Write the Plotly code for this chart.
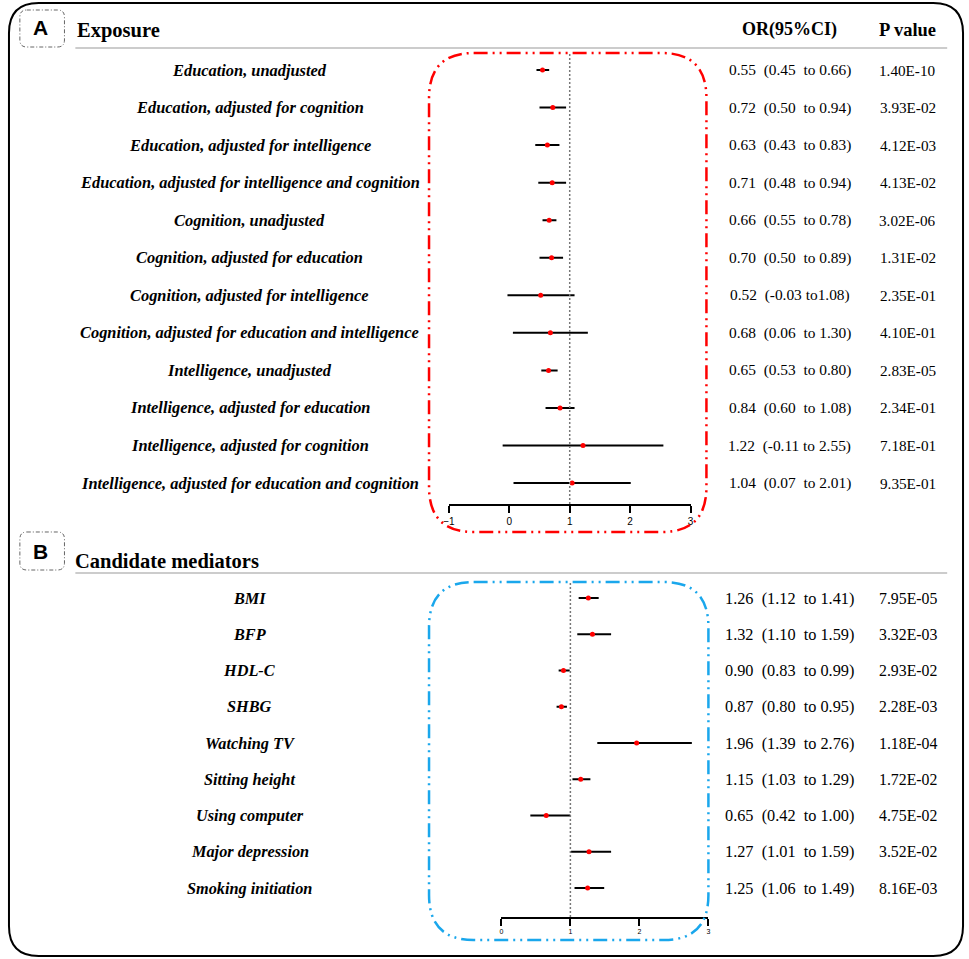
import plotly.graph_objects as go

W, H = 969, 959

# panel A: exposures
labels_a = [
    'Education, unadjusted',
    'Education, adjusted for cognition',
    'Education, adjusted for intelligence',
    'Education, adjusted for intelligence and cognition',
    'Cognition, unadjusted',
    'Cognition, adjusted for education',
    'Cognition, adjusted for intelligence',
    'Cognition, adjusted for education and intelligence',
    'Intelligence, unadjusted',
    'Intelligence, adjusted for education',
    'Intelligence, adjusted for cognition',
    'Intelligence, adjusted for education and cognition',
]
or_a = [0.55, 0.72, 0.63, 0.71, 0.66, 0.70, 0.52, 0.68, 0.65, 0.84, 1.22, 1.04]
lo_a = [0.45, 0.50, 0.43, 0.48, 0.55, 0.50, -0.03, 0.06, 0.53, 0.60, -0.11, 0.07]
hi_a = [0.66, 0.94, 0.83, 0.94, 0.78, 0.89, 1.08, 1.30, 0.80, 1.08, 2.55, 2.01]
ci_text_a = [
    '0.55  (0.45  to 0.66)', '0.72  (0.50  to 0.94)', '0.63  (0.43  to 0.83)',
    '0.71  (0.48  to 0.94)', '0.66  (0.55  to 0.78)', '0.70  (0.50  to 0.89)',
    '0.52  (-0.03 to1.08)', '0.68  (0.06  to 1.30)', '0.65  (0.53  to 0.80)',
    '0.84  (0.60  to 1.08)', '1.22  (-0.11 to 2.55)', '1.04  (0.07  to 2.01)',
]
p_a = ['1.40E-10', '3.93E-02', '4.12E-03', '4.13E-02', '3.02E-06', '1.31E-02',
       '2.35E-01', '4.10E-01', '2.83E-05', '2.34E-01', '7.18E-01', '9.35E-01']
ticks_a = [-1, 0, 1, 2, 3]

# panel B: candidate mediators
labels_b = ['BMI', 'BFP', 'HDL-C', 'SHBG', 'Watching TV', 'Sitting height',
            'Using computer', 'Major depression', 'Smoking initiation']
or_b = [1.26, 1.32, 0.90, 0.87, 1.96, 1.15, 0.65, 1.27, 1.25]
lo_b = [1.12, 1.10, 0.83, 0.80, 1.39, 1.03, 0.42, 1.01, 1.06]
hi_b = [1.41, 1.59, 0.99, 0.95, 2.76, 1.29, 1.00, 1.59, 1.49]
ci_text_b = [
    '1.26  (1.12  to 1.41)', '1.32  (1.10  to 1.59)', '0.90  (0.83  to 0.99)',
    '0.87  (0.80  to 0.95)', '1.96  (1.39  to 2.76)', '1.15  (1.03  to 1.29)',
    '0.65  (0.42  to 1.00)', '1.27  (1.01  to 1.59)', '1.25  (1.06  to 1.49)',
]
p_b = ['7.95E-05', '3.32E-03', '2.93E-02', '2.28E-03', '1.18E-04', '1.72E-02',
       '4.75E-02', '3.52E-02', '8.16E-03']
ticks_b = [0, 1, 2, 3]

SERIF = 'Liberation Serif'
SANS = 'Liberation Sans'


def px(x):
    return x / W


def py(y):
    return 1 - y / H


def rrect(x0, y0, x1, y1, r):
    # rounded rectangle path in paper coords, from pixel box
    pts = [
        ('M', [(x0 + r, y0)]), ('L', [(x1 - r, y0)]), ('Q', [(x1, y0), (x1, y0 + r)]),
        ('L', [(x1, y1 - r)]), ('Q', [(x1, y1), (x1 - r, y1)]),
        ('L', [(x0 + r, y1)]), ('Q', [(x0, y1), (x0, y1 - r)]),
        ('L', [(x0, y0 + r)]), ('Q', [(x0, y0), (x0 + r, y0)]),
    ]
    s = ''
    for cmd, cs in pts:
        s += cmd + ' '.join('%.5f,%.5f' % (px(a), py(b)) for a, b in cs) + ' '
    return s + 'Z'


def nb(s):
    return s.replace(' ', '\u00a0')


def txt(x, y, text, size, yref='paper', family=SERIF, xanchor='center'):
    return dict(x=px(x), y=y, xref='paper', yref=yref, text=text, xanchor=xanchor,
                yanchor='middle', font=dict(family=family, size=size, color='black'),
                showarrow=False)


fig = go.Figure()

rows_a = list(range(len(labels_a)))
rows_b = list(range(len(labels_b)))

fig.add_trace(go.Scatter(
    x=or_a, y=rows_a, mode='markers', xaxis='x', yaxis='y',
    marker=dict(color='red', size=5),
    error_x=dict(type='data', symmetric=False,
                 array=[h - o for h, o in zip(hi_a, or_a)],
                 arrayminus=[o - l for o, l in zip(or_a, lo_a)],
                 color='black', thickness=2, width=0),
    hoverinfo='skip', showlegend=False,
))
fig.add_trace(go.Scatter(
    x=or_b, y=rows_b, mode='markers', xaxis='x2', yaxis='y2',
    marker=dict(color='red', size=5),
    error_x=dict(type='data', symmetric=False,
                 array=[h - o for h, o in zip(hi_b, or_b)],
                 arrayminus=[o - l for o, l in zip(or_b, lo_b)],
                 color='black', thickness=2, width=0),
    hoverinfo='skip', showlegend=False,
))

ann = []
for i in rows_a:
    ann.append(txt(246, i, '<b><i>%s</i></b>' % labels_a[i], 16.4, yref='y'))
    ann.append(txt(791, i, nb(ci_text_a[i]), 15.4, yref='y'))
    ann.append(txt(910, i, p_a[i], 15.2, yref='y'))
for i in rows_b:
    ann.append(txt(246, i, '<b><i>%s</i></b>' % labels_b[i], 16.3, yref='y2'))
    ann.append(txt(791, i, nb(ci_text_b[i]), 16.3, yref='y2'))
    ann.append(txt(910, i, p_b[i], 15.8, yref='y2'))

# headers
ann += [
    txt(70, py(31), '<b>Exposure</b>', 20.5, xanchor='left'),
    txt(68, py(561), '<b>Candidate mediators</b>', 20.5, xanchor='left'),
    txt(791, py(30), '<b>OR(95%CI)</b>', 18),
    txt(910, py(30), '<b>P value</b>', 18.5),
    txt(35, py(28), '<b>A</b>', 21, family=SANS),
    txt(35, py(551), '<b>B</b>', 21, family=SANS),
]

dashdotdot = '14px,5px,2px,5px,2px,5px'
shapes = [
    # outer frame
    dict(type='path', xref='paper', yref='paper', path=rrect(3, 3, 966, 956, 30),
         line=dict(color='black', width=2)),
    # label boxes
    dict(type='path', xref='paper', yref='paper', path=rrect(14, 10, 59, 47, 7),
         line=dict(color='#666666', width=1, dash='4px,2px,1px,2px')),
    dict(type='path', xref='paper', yref='paper', path=rrect(14, 532, 59, 570, 7),
         line=dict(color='#666666', width=1, dash='4px,2px,1px,2px')),
    # header rules
    dict(type='line', xref='paper', yref='paper', x0=px(70), x1=px(950), y0=py(48), y1=py(48),
         line=dict(color='#bbbbbb', width=1.5)),
    dict(type='line', xref='paper', yref='paper', x0=px(70), x1=px(950), y0=py(573), y1=py(573),
         line=dict(color='#bbbbbb', width=1.5)),
    # reference lines at OR = 1
    dict(type='line', xref='x', yref='y domain', x0=1, x1=1, y0=0, y1=1,
         line=dict(color='#777777', width=1.5, dash='2px,2px')),
    dict(type='line', xref='x2', yref='y2 domain', x0=1, x1=1, y0=0, y1=1,
         line=dict(color='#777777', width=1.5, dash='2px,2px')),
    # highlight boxes
    dict(type='path', xref='paper', yref='paper', path=rrect(427, 53, 707, 532, 45),
         line=dict(color='#ff0000', width=2.5, dash=dashdotdot)),
    dict(type='path', xref='paper', yref='paper', path=rrect(427, 582, 709, 940, 45),
         line=dict(color='#1aa7ec', width=2.5, dash=dashdotdot)),
]

axis_common = dict(showgrid=False, zeroline=False, showline=True, linecolor='black', linewidth=2,
                   ticks='outside', ticklen=7, tickwidth=2, tickcolor='black')

fig.update_layout(
    width=W, height=H,
    margin=dict(l=0, r=0, t=0, b=0),
    plot_bgcolor='white', paper_bgcolor='white',
    xaxis=dict(domain=[px(447), px(691)], range=[-1, 3], tickvals=ticks_a, anchor='y',
               tickfont=dict(family=SANS, size=10, color='black'), tickprefix='<b>', ticksuffix='</b>',
               **axis_common),
    yaxis=dict(domain=[py(504), py(52)], range=[(504 - 70) / 37.55, (52 - 70) / 37.55],
               visible=False, anchor='x'),
    xaxis2=dict(domain=[px(500), px(709)], range=[0, 3], tickvals=ticks_b, anchor='y2',
                tickfont=dict(family=SANS, size=7, color='black'), tickprefix='<b>', ticksuffix='</b>',
                **axis_common),
    yaxis2=dict(domain=[py(917), py(582)], range=[(917 - 598) / 36.25, (582 - 598) / 36.25],
                visible=False, anchor='x2'),
    annotations=ann,
    shapes=shapes,
)

fig.write_html('out.html', config={'displayModeBar': False},
               post_script="document.body.style.margin='0';document.body.style.overflow='hidden';")
